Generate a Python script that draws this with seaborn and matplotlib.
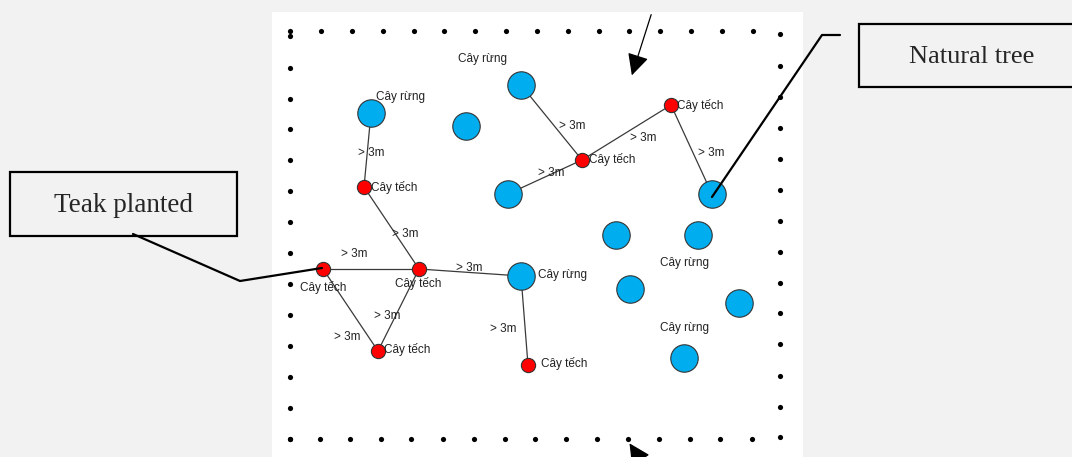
import pandas as pd
import numpy as np
import matplotlib.pyplot as plt
import seaborn as sns
from matplotlib.patches import Rectangle

# === 1) Dati (coordinate in pixel dell'immagine) ============================
# alberi naturali ("Cây rừng") - cerchi blu
rung_x = [521, 371, 466, 508, 712, 616, 698, 521, 630, 739, 684]
rung_y = [85, 113, 126, 194, 194, 235, 235, 276, 289, 303, 358]

# teak piantati ("Cây tếch") - punti rossi
tech_x = [671, 582, 364, 323, 419, 378, 528]
tech_y = [105, 160, 187, 269, 269, 351, 365]

# collegamenti (tipo, indice) -> (tipo, indice)
links = [
    (("r", 1), ("t", 2)),
    (("t", 2), ("t", 4)),
    (("t", 3), ("t", 4)),
    (("t", 3), ("t", 5)),
    (("t", 4), ("t", 5)),
    (("t", 4), ("r", 7)),
    (("r", 7), ("t", 6)),
    (("r", 0), ("t", 1)),
    (("r", 3), ("t", 1)),
    (("t", 1), ("t", 0)),
    (("t", 0), ("r", 4)),
]

# bordo punteggiato del lotto
top_x = [290, 321, 352, 383, 414, 444, 475, 506, 537, 568, 599, 629, 660, 691, 722, 753]
bottom_x = [290, 320, 350, 381, 411, 443, 474, 505, 535, 566, 597, 628, 659, 690, 720, 752]
left_y = [36, 68, 99, 129, 160, 191, 222, 253, 284, 315, 346, 377, 408, 439]
right_y = [34, 66, 97, 128, 159, 190, 221, 252, 283, 313, 344, 376, 407, 437]
top_row_y, bottom_row_y, left_col_x, right_col_x = 31, 439, 290, 780

# etichette
rung_label_xy = [(482, 59), (400, 97), (563, 275), (684, 263), (684, 328)]
tech_label_xy = [(700, 105), (612, 159), (394, 187), (323, 288), (418, 283),
                 (407, 350), (564, 364)]
dist_label_xy = [(572, 126), (643, 138), (711, 153), (371, 153), (551, 173),
                 (354, 254), (405, 234), (469, 268), (387, 316), (347, 337),
                 (503, 329)]

# === 2) DataFrame ===========================================================
rung = pd.DataFrame({"x": rung_x, "y": rung_y})
tech = pd.DataFrame({"x": tech_x, "y": tech_y})
border = pd.DataFrame({
    "x": top_x + bottom_x + [left_col_x] * len(left_y) + [right_col_x] * len(right_y),
    "y": [top_row_y] * len(top_x) + [bottom_row_y] * len(bottom_x) + left_y + right_y,
})
nodes = {"r": rung, "t": tech}

# === 3) Figura ==============================================================
sns.set_style("white")
plt.rcParams['font.family'] = ['Liberation Sans', 'DejaVu Sans']

fig = plt.figure(figsize=(10.72, 4.57), dpi=100, facecolor="#f2f2f2")
ax = fig.add_axes([0, 0, 1, 1])
ax.set_xlim(0, 1072)
ax.set_ylim(457, 0)
ax.axis("off")

# pannello bianco
ax.add_patch(Rectangle((272, 12), 531, 450, facecolor="white", edgecolor="none", zorder=0))

# collegamenti
for (ta, ia), (tb, ib) in links:
    a, b = nodes[ta].iloc[ia], nodes[tb].iloc[ib]
    ax.plot([a.x, b.x], [a.y, b.y], color="#3a3a3a", lw=0.9, zorder=1)

sns.scatterplot(data=border, x="x", y="y", color="black", s=14, linewidth=0, ax=ax, zorder=2)
sns.scatterplot(data=rung, x="x", y="y", color="#00aeef", edgecolor="#333333",
                s=390, linewidth=0.8, ax=ax, zorder=3)
sns.scatterplot(data=tech, x="x", y="y", color="#ff0000", edgecolor="#333333",
                s=105, linewidth=0.8, ax=ax, zorder=3)
ax.set_xlabel("")
ax.set_ylabel("")

for x, y in rung_label_xy:
    ax.text(x, y, "Cây rừng", fontsize=8.5, color="#222222", ha="center", va="center", zorder=4)
for x, y in tech_label_xy:
    ax.text(x, y, "Cây tếch", fontsize=8.5, color="#222222", ha="center", va="center", zorder=4)
for x, y in dist_label_xy:
    ax.text(x, y, "> 3m", fontsize=8.5, color="#222222", ha="center", va="center", zorder=4)

# frecce
ax.annotate("", xy=(631, 78), xytext=(652, 12),
            arrowprops=dict(arrowstyle="-|>,head_length=0.6,head_width=0.3",
                            color="black", lw=0.9, mutation_scale=22),
            zorder=5)
ax.annotate("", xy=(628, 441), xytext=(652, 478), annotation_clip=False,
            arrowprops=dict(arrowstyle="-|>,head_length=0.6,head_width=0.3",
                            color="black", lw=0.9, mutation_scale=22),
            zorder=5)

# riquadri di richiamo
ax.add_patch(Rectangle((10, 172), 227, 64, facecolor="#f2f2f2", edgecolor="black", lw=1.6, zorder=5))
ax.text(124, 206, "Teak planted", family="Liberation Serif", fontsize=19.5,
        ha="center", va="center", zorder=6)
ax.plot([133, 240, 322], [234, 281, 268], color="black", lw=1.6, zorder=6)

ax.add_patch(Rectangle((859, 24), 230, 63, facecolor="#f2f2f2", edgecolor="black", lw=1.6,
                       zorder=5, clip_on=False))
ax.text(972, 57, "Natural tree", family="Liberation Serif", fontsize=19,
        ha="center", va="center", zorder=6)
ax.plot([840, 822, 712], [35, 35, 197], color="black", lw=1.6, zorder=6)

plt.savefig("out.png", dpi=100, facecolor=fig.get_facecolor())
